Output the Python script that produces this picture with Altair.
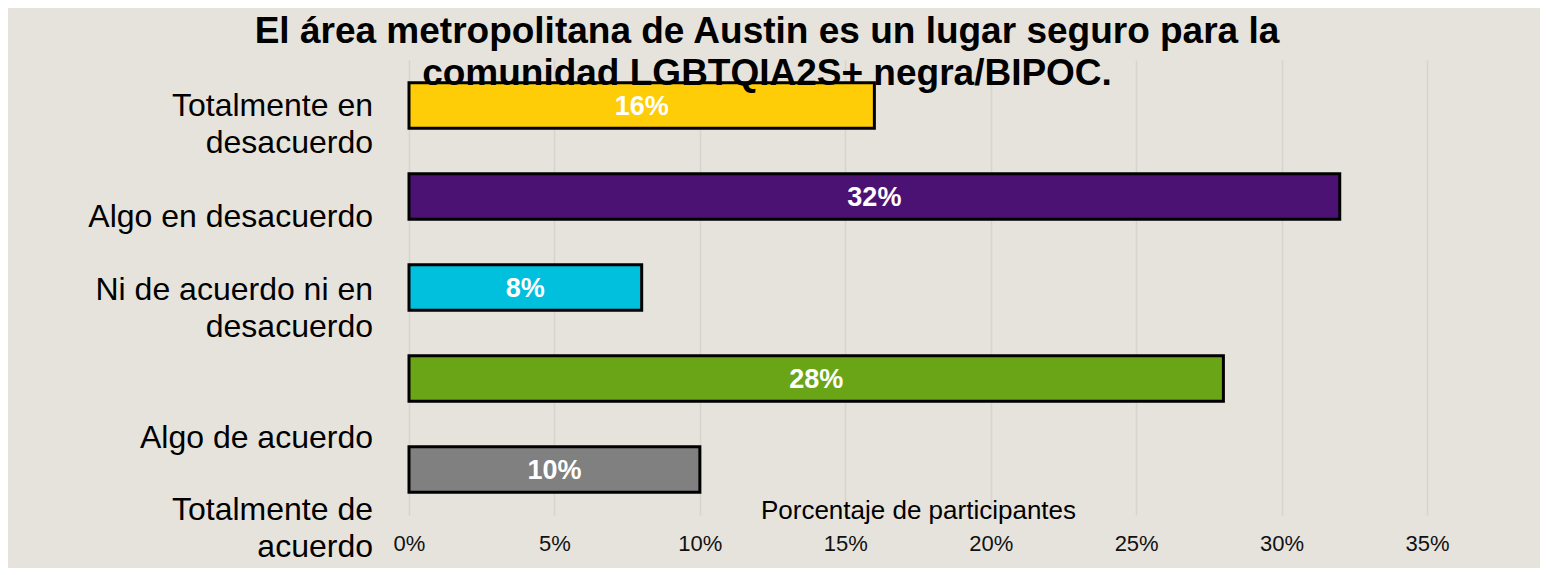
import altair as alt
import pandas as pd

categories = [
    "Totalmente en\ndesacuerdo",
    "Algo en desacuerdo",
    "Ni de acuerdo ni en\ndesacuerdo",
    "Algo de acuerdo",
    "Totalmente de\nacuerdo",
]
values = [0.16, 0.32, 0.08, 0.28, 0.10]
colors = ["#FFCC08", "#4B1273", "#00C0DE", "#6AA517", "#808080"]
x_ticks = [0, 0.05, 0.10, 0.15, 0.20, 0.25, 0.30, 0.35]

# vertical nudge of each category label relative to its bar (layout, not data)
label_dy = [0.5, 20.5, 2.5, 59.5, 40.5]

df = pd.DataFrame({
    "cat": categories,
    "val": values,
    "color": colors,
    "idx": list(range(len(categories))),
})
df["lab"] = df["val"].map(lambda v: f"{round(v*100)}%")

FONT = "Liberation Sans"

y_enc = alt.Y("idx:O", scale=alt.Scale(paddingInner=0.5, paddingOuter=0.25), axis=None)

base = alt.Chart(df)

bars = base.mark_bar(stroke="black", strokeWidth=3).encode(
    y=y_enc,
    x=alt.X(
        "val:Q",
        scale=alt.Scale(domain=[0, 0.35], nice=False),
        axis=alt.Axis(
            values=x_ticks,
            format=".0%",
            title="Porcentaje de participantes",
            titleFont=FONT,
            titleFontSize=26,
            titleFontWeight="normal",
            titleColor="#000000",
            titleY=-5,
            titleBaseline="middle",
            labelFont=FONT,
            labelFontSize=22,
            labelColor="#111111",
            labelPadding=18,
            labelFlush=False,
            domain=False,
            ticks=False,
            grid=True,
            gridColor="#D6D4CE",
            gridWidth=1.5,
        ),
    ),
    color=alt.Color("color:N", scale=None),
)

bar_labels = base.mark_text(
    font=FONT, fontSize=27, fontWeight="bold", color="white", baseline="middle", dy=1
).encode(
    y=y_enc,
    x=alt.X("mid:Q"),
    text="lab:N",
).transform_calculate(mid="datum.val / 2")

cat_layers = []
for i, d in enumerate(label_dy):
    cat_layers.append(
        base.transform_filter(f"datum.idx == {i}").mark_text(
            font=FONT, fontSize=32, align="right", baseline="middle", lineBreak="\n",
            lineHeight=36.5, dy=d, color="#000000"
        ).encode(y=y_enc, x=alt.value(-36), text="cat:N")
    )

chart = alt.layer(bars, bar_labels, *cat_layers).properties(
    width=1018,
    height=455,
    autosize=alt.AutoSizeParams(type="none"),
    padding={"left": 401, "top": 52, "right": 113, "bottom": 53},
    background="#E6E3DC",
    title=alt.TitleParams(
        text=["El área metropolitana de Austin es un lugar seguro para la",
              "comunidad LGBTQIA2S+ negra/BIPOC."],
        font=FONT, fontSize=37, fontWeight="bold", color="#000000",
        lineHeight=42, anchor="middle", dx=-151, dy=37,
    ),
).configure_view(stroke=None)

chart.save("out.html", embed_options={"renderer": "svg", "actions": False})
